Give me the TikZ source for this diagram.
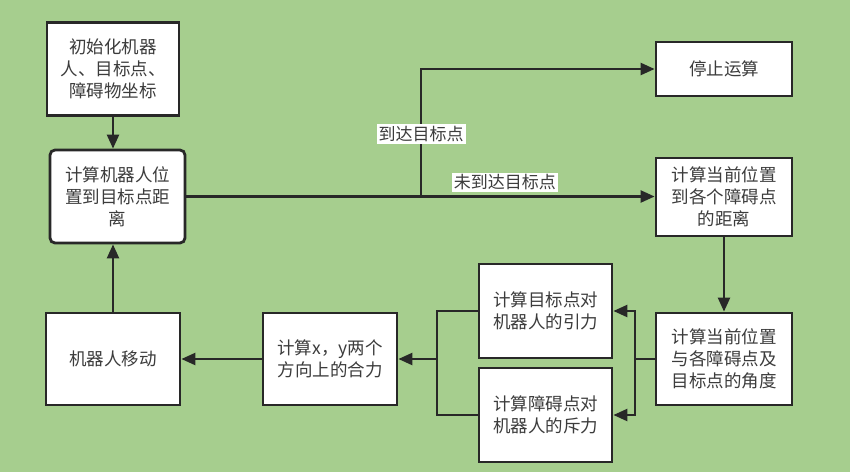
\documentclass[tikz,border=0pt]{standalone}
\usepackage{fontspec}
\setmainfont{Noto Sans CJK SC}
\usetikzlibrary{arrows.meta}
\definecolor{bg}{RGB}{166,206,142}
\definecolor{ink}{RGB}{40,40,40}
\definecolor{txt}{RGB}{60,60,60}
\tikzset{
  box/.style={draw=ink, line width=2.8pt, fill=white, text=txt, align=center,
    inner sep=0pt, font=\fontsize{17.5}{22}\selectfont},
  conn/.style={draw=ink, line width=2.4pt, -{Triangle[length=14pt,width=12pt]}},
  plain/.style={draw=ink, line width=2.4pt},
  lbl/.style={fill=white, text=txt, inner sep=2pt, font=\fontsize{17}{20}\selectfont}
}
\begin{document}
\begin{tikzpicture}[x=1pt,y=-1pt]
\fill[bg] (0,0) rectangle (850,472);
\useasboundingbox (0,0) rectangle (850,472);
% boxes (centre, size)
\node[box, minimum width=132pt, minimum height=93pt] (init) at (113,69) {初始化机器\\人、目标点、\\障碍物坐标};
\node[box, rounded corners=5pt, minimum width=135pt, minimum height=93pt] (dist) at (117.5,196.5) {计算机器人位\\置到目标点距\\离};
\node[box, minimum width=136pt, minimum height=54pt] (stop) at (724,69) {停止运算};
\node[box, minimum width=136pt, minimum height=78pt] (obs) at (724,197) {计算当前位置\\到各个障碍点\\的距离};
\node[box, minimum width=136pt, minimum height=92pt] (ang) at (724,359) {计算当前位置\\与各障碍点及\\目标点的角度};
\node[box, minimum width=133pt, minimum height=94pt] (att) at (545.5,311) {计算目标点对\\机器人的引力};
\node[box, minimum width=133pt, minimum height=94pt] (rep) at (545.5,415) {计算障碍点对\\机器人的斥力};
\node[box, minimum width=134pt, minimum height=92pt] (sum) at (330,359) {计算x，y两个\\方向上的合力};
\node[box, minimum width=134pt, minimum height=92pt] (move) at (113,359) {机器人移动};
% helper coordinates
\coordinate (br) at (421,196.5);
\coordinate (rs) at (635,359);
\coordinate (ls) at (437,359);
% connectors
\draw[conn] (init.south) -- (init.south |- dist.north);
\draw[conn] (dist.east |- br) -- (obs.west |- br) node[lbl, pos=0.68, above=3pt] {未到达目标点};
\draw[conn] (br) |- (stop.west) node[lbl, pos=0.245] {到达目标点};
\draw[conn] (obs.south) -- (ang.north);
\draw[plain] (ang.west) -- (rs);
\draw[conn] (rs) |- (att.east);
\draw[conn] (rs) |- (rep.east);
\draw[plain] (att.west) -| (ls);
\draw[plain] (rep.west) -| (ls);
\draw[conn] (ls) -- (sum.east);
\draw[conn] (sum.west) -- (move.east);
\draw[conn] (move.north) -- (move.north |- dist.south);
\end{tikzpicture}
\end{document}
